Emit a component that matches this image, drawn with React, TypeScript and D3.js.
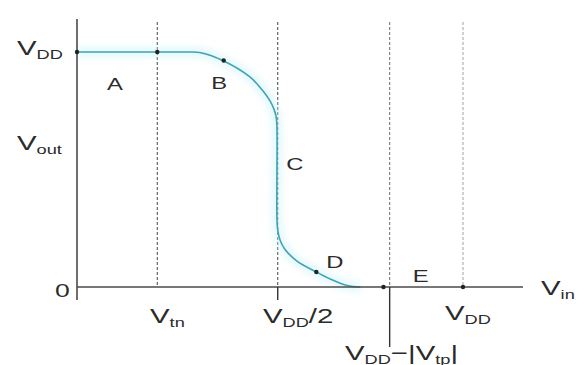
import React from "react";
import * as d3 from "d3";

// CMOS inverter voltage transfer characteristic (schematic units, VDD = 5)
const VDD = 5;
const vinCurve = [0, 1.04, 1.42, 1.59, 1.9, 2.24, 2.4, 2.5, 2.55, 2.58, 2.59, 2.59, 2.6, 2.63, 2.69, 2.85, 3.1, 3.28, 3.5, 3.67];
const voutCurve = [5, 5, 5, 4.99, 4.81, 4.47, 4.19, 3.96, 3.79, 3.62, 3.4, 1.43, 1.21, 1.0, 0.81, 0.55, 0.32, 0.17, 0.03, 0];

// Marked operating points
const markVin = [0, 1.04, 1.9, 3.1, 3.97, 5];
const markVout = [5, 5, 4.82, 0.32, 0, 0];

// Reference input voltages (Vtn, VDD/2, VDD-|Vtp|, VDD)
const refVin = [1.04, 2.6, 4.05, 5];
const refColor = ["#555", "#555", "#777", "#aaa"];

// Region letters and their placement in (Vin, Vout)
const regionNames = ["A", "B", "C", "D", "E"];
const regionVin = [0.39, 1.74, 2.71, 3.23, 4.35];
const regionVout = [4.19, 4.21, 2.48, 0.4, 0.1];

const W = 577;
const H = 365;
const FONT = "'Liberation Sans', Arial, Helvetica, sans-serif";
const INK = "#2b2b2b";
const SX = 1.4;

type Part = { t: string; sub?: boolean };

function Label({ x, y, parts, size = 21, subSize = 13 }: { x: number; y: number; parts: Part[]; size?: number; subSize?: number }) {
  let prevSub = false;
  return (
    <g transform={`translate(${x},${y}) scale(${SX},1)`}>
      <text fontFamily={FONT} fill={INK} fontSize={size}>
        {parts.map((p, i) => {
          const dy = p.sub && !prevSub ? 4 : !p.sub && prevSub ? -4 : 0;
          prevSub = !!p.sub;
          return (
            <tspan key={i} dy={dy} fontSize={p.sub ? subSize : size}>
              {p.t}
            </tspan>
          );
        })}
      </text>
    </g>
  );
}

export default function App() {
  const x = d3.scaleLinear().domain([0, VDD]).range([77, 463]);
  const y = d3.scaleLinear().domain([0, VDD]).range([287, 52]);

  const pts: [number, number][] = vinCurve.map((v, i) => [v, voutCurve[i]]);
  const line = d3
    .line<[number, number]>()
    .x((d) => x(d[0]))
    .y((d) => y(d[1]))
    .curve(d3.curveCatmullRom.alpha(0.5));
  const path = line(pts) || "";

  const axisY = y(0);
  const axisX = x(0);

  return (
    <svg width={W} height={H} style={{ position: "absolute", left: 0, top: 0, background: "#fff" }}>
      <defs>
        <filter id="glow" x="-20%" y="-20%" width="140%" height="140%">
          <feGaussianBlur stdDeviation="3" />
        </filter>
      </defs>
      <rect width={W} height={H} fill="#fff" />

      {/* reference verticals */}
      {refVin.map((v, i) => (
        <line key={i} x1={x(v)} x2={x(v)} y1={22} y2={axisY} stroke={refColor[i]} strokeWidth={1.1} strokeDasharray="3 2" />
      ))}

      {/* transfer curve with soft halo */}
      <path d={path} fill="none" stroke="#c9f1f7" strokeWidth={11} opacity={0.45} filter="url(#glow)" />
      <path d={path} fill="none" stroke="#3fa3b4" strokeWidth={1.6} />

      {/* axes */}
      <line x1={axisX} x2={axisX} y1={19} y2={300} stroke="#4a4a4a" strokeWidth={1.6} />
      <line x1={axisX} x2={523} y1={axisY} y2={axisY} stroke="#4a4a4a" strokeWidth={1.6} />
      <line x1={x(refVin[1])} x2={x(refVin[1])} y1={axisY} y2={300} stroke="#333" strokeWidth={1.4} />
      <line x1={x(refVin[2])} x2={x(refVin[2])} y1={axisY} y2={347} stroke="#333" strokeWidth={1.4} />

      {/* marked points */}
      {markVin.map((v, i) => (
        <circle key={i} cx={x(v)} cy={y(markVout[i])} r={2.2} fill="#222" />
      ))}

      {/* region letters */}
      {regionNames.map((n, i) => (
        <Label key={n} x={x(regionVin[i])} y={y(regionVout[i])} parts={[{ t: n }]} size={17} />
      ))}

      {/* axis labels */}
      <Label x={17} y={55} parts={[{ t: "V" }, { t: "DD", sub: true }]} />
      <Label x={17} y={150} parts={[{ t: "V" }, { t: "out", sub: true }]} />
      <Label x={55} y={297} parts={[{ t: "0" }]} size={19} />
      <Label x={541} y={295} parts={[{ t: "V" }, { t: "in", sub: true }]} />

      <Label x={150} y={323} parts={[{ t: "V" }, { t: "tn", sub: true }]} />
      <Label x={263} y={323} parts={[{ t: "V" }, { t: "DD", sub: true }, { t: "/2" }]} />
      <Label x={445} y={320} parts={[{ t: "V" }, { t: "DD", sub: true }]} />
      <Label
        x={345}
        y={360}
        parts={[{ t: "V" }, { t: "DD", sub: true }, { t: "\u2212|V" }, { t: "tp", sub: true }, { t: "|" }]}
      />
    </svg>
  );
}
